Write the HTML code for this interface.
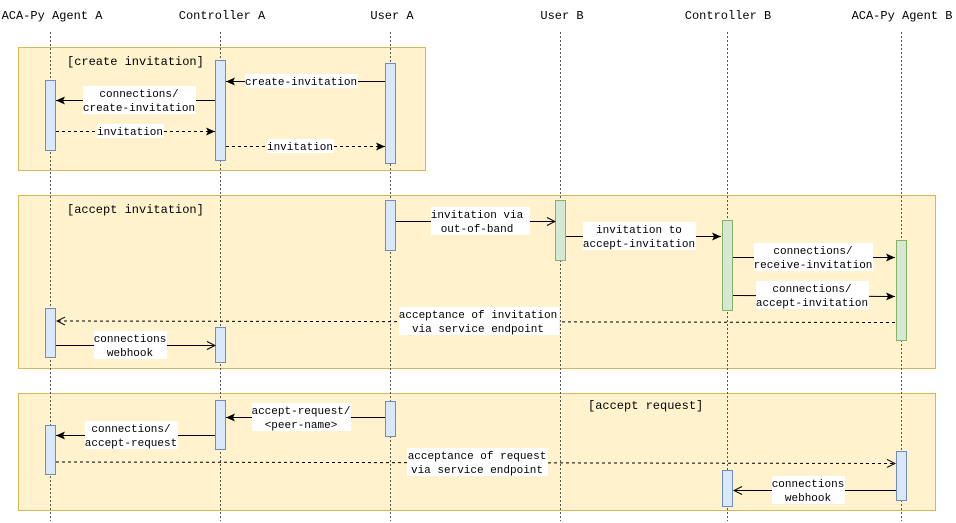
<!DOCTYPE html>
<html><head><style>body{margin:0;background:#fff}svg{display:block}text{font-family:"Liberation Mono","DejaVu Sans Mono",monospace;font-size:11px;fill:#000}.b{font-size:12px}</style></head><body>
<svg width="956" height="523" viewBox="0 0 956 523" xmlns="http://www.w3.org/2000/svg">
<defs>
<marker id="f" markerWidth="10" markerHeight="8" refX="9" refY="4" orient="auto" markerUnits="userSpaceOnUse"><path d="M0,0 L9,4 L0,8 L2,4 z" fill="#000"/></marker>
<marker id="o" markerWidth="10" markerHeight="10" refX="9" refY="5" orient="auto" markerUnits="userSpaceOnUse"><path d="M1,1 L9,5 L1,9" fill="none" stroke="#000"/></marker>
</defs>
<g text-anchor="middle" class="b">
<text class="b" x="52" y="19">ACA-Py Agent A</text><text class="b" x="222" y="19">Controller A</text><text class="b" x="392" y="19">User A</text><text class="b" x="562" y="19">User B</text><text class="b" x="728" y="19">Controller B</text><text class="b" x="902" y="19">ACA-Py Agent B</text>
</g>
<g fill="#fff2cc" stroke="#d6b656"><rect x="18.5" y="47.5" width="407" height="123"/><rect x="18.5" y="195.5" width="917" height="173"/><rect x="18.5" y="393.5" width="917" height="117"/></g>
<g stroke="#555" stroke-dasharray="2,2"><line x1="50.5" y1="32" x2="50.5" y2="521"/><line x1="220.5" y1="32" x2="220.5" y2="521"/><line x1="390.5" y1="32" x2="390.5" y2="521"/><line x1="560.5" y1="32" x2="560.5" y2="521"/><line x1="727.5" y1="32" x2="727.5" y2="521"/><line x1="901.5" y1="32" x2="901.5" y2="521"/></g>
<text class="b" x="67" y="65">[create invitation]</text><text class="b" x="67" y="213">[accept invitation]</text><text class="b" x="588" y="409">[accept request]</text>
<g fill="#dae8fc" stroke="#6c8ebf">
<rect x="45.5" y="80.5" width="10" height="70"/><rect x="45.5" y="308.5" width="10" height="49"/><rect x="45.5" y="425.5" width="10" height="49"/>
<rect x="215.5" y="60.5" width="10" height="100"/><rect x="215.5" y="327.5" width="10" height="35"/><rect x="215.5" y="400.5" width="10" height="49"/>
<rect x="385.5" y="63.5" width="10" height="100"/><rect x="385.5" y="200.5" width="10" height="50"/><rect x="385.5" y="401.5" width="10" height="35"/>
<rect x="722.5" y="470.5" width="10" height="36"/><rect x="896.5" y="451.5" width="10" height="49"/>
</g>
<g fill="#d5e8d4" stroke="#82b366"><rect x="555.5" y="200.5" width="10" height="60"/><rect x="722.5" y="220.5" width="10" height="90"/><rect x="896.5" y="240.5" width="10" height="100"/></g>
<g stroke="#000" fill="none">
<line x1="385" y1="81.5" x2="226" y2="81.5" marker-end="url(#f)"/>
<line x1="215" y1="100.5" x2="56" y2="100.5" marker-end="url(#f)"/>
<line x1="56" y1="131.5" x2="215" y2="131.5" stroke-dasharray="3,3" marker-end="url(#f)"/>
<line x1="226" y1="146.5" x2="385" y2="146.5" stroke-dasharray="3,3" marker-end="url(#f)"/>
<line x1="396" y1="221.5" x2="555" y2="221.5" marker-end="url(#o)"/>
<line x1="566" y1="236.5" x2="721" y2="236.5" marker-end="url(#f)"/>
<line x1="733" y1="257.5" x2="895" y2="257.5" marker-end="url(#f)"/>
<line x1="733" y1="295.5" x2="895" y2="296.5" marker-end="url(#f)"/>
<line x1="895" y1="322.5" x2="57" y2="321" stroke-dasharray="3,3" marker-end="url(#o)"/>
<line x1="56" y1="345.5" x2="215" y2="345.5" marker-end="url(#o)"/>
<line x1="385" y1="417.5" x2="226" y2="417.5" marker-end="url(#f)"/>
<line x1="215" y1="435.5" x2="56" y2="435.5" marker-end="url(#f)"/>
<line x1="56" y1="462" x2="895" y2="463.5" stroke-dasharray="3,3" marker-end="url(#o)"/>
<line x1="896" y1="490.5" x2="734" y2="490.5" marker-end="url(#o)"/>
</g>
<g fill="#fff">
<rect x="245" y="74" width="113" height="14"/><rect x="83" y="86" width="113" height="28"/><rect x="97" y="124" width="67" height="14"/><rect x="267" y="139" width="67" height="14"/>
<rect x="431" y="207" width="99" height="28"/><rect x="583" y="222" width="113" height="28"/><rect x="754" y="243" width="119" height="28"/><rect x="756" y="281" width="113" height="28"/>
<rect x="399" y="307" width="160" height="28"/><rect x="94" y="331" width="73" height="28"/><rect x="252" y="403" width="99" height="28"/><rect x="85" y="421" width="93" height="28"/>
<rect x="407" y="448" width="141" height="28"/><rect x="772" y="476" width="73" height="28"/>
</g>
<g text-anchor="middle">
<text x="301" y="85">create-invitation</text>
<text x="139" y="97">connections/</text><text x="139" y="111">create-invitation</text>
<text x="130" y="135">invitation</text><text x="300" y="150">invitation</text>
<text x="477" y="218">invitation via</text><text x="477" y="232">out-of-band</text>
<text x="639" y="233">invitation to</text><text x="639" y="247">accept-invitation</text>
<text x="813" y="254">connections/</text><text x="813" y="268">receive-invitation</text>
<text x="812" y="292">connections/</text><text x="812" y="306">accept-invitation</text>
<text x="478" y="318">acceptance of invitation</text><text x="478" y="332">via service endpoint</text>
<text x="130" y="342">connections</text><text x="130" y="356">webhook</text>
<text x="301" y="414">accept-request/</text><text x="301" y="428">&lt;peer-name&gt;</text>
<text x="131" y="432">connections/</text><text x="131" y="446">accept-request</text>
<text x="477" y="459">acceptance of request</text><text x="477" y="473">via service endpoint</text>
<text x="808" y="487">connections</text><text x="808" y="501">webhook</text>
</g>
</svg>
</body></html>
